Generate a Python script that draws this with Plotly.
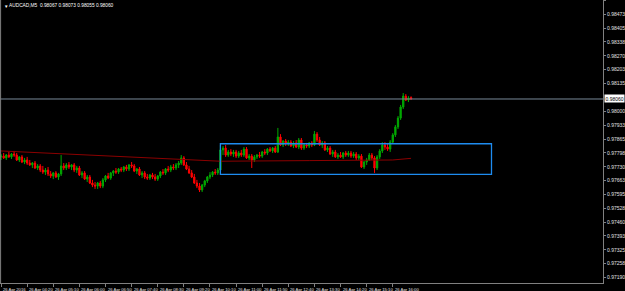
import plotly.graph_objects as go

# ---- data (prices in points, 1 point = 0.00001) ----
opens = [97778,97782,97773,97787,97778,97792,97787,97763,97778,97753,97763,97748,97739,97748,97724,97734,97714,97704,97714,97695,
         97685,97700,97680,97695,97734,97724,97739,97729,97739,97714,97724,97690,97700,97670,97680,97651,97641,97636,97651,97636,
         97666,97685,97675,97700,97709,97704,97719,97714,97729,97719,97739,97734,97709,97719,97690,97700,97680,97675,97690,97680,
         97670,97685,97704,97700,97719,97714,97729,97724,97739,97748,97773,97739,97719,97700,97680,97651,97636,97617,97641,97661,
         97680,97690,97704,97700,97714,97812,97821,97787,97802,97792,97802,97782,97797,97787,97816,97773,97782,97763,97778,97787,
         97782,97802,97797,97816,97807,97821,97802,97875,97836,97855,97841,97850,97831,97846,97826,97860,97821,97836,97831,97846,
         97836,97889,97860,97836,97846,97812,97821,97792,97802,97778,97787,97778,97797,97787,97797,97782,97792,97773,97782,97729,
         97753,97763,97787,97773,97724,97778,97807,97836,97826,97816,97850,97885,97924,97967,98021,98074,98055,98067]
highs = [97792,97797,97792,97802,97797,97807,97797,97782,97787,97773,97778,97763,97753,97758,97743,97743,97734,97724,97729,97709,
         97704,97709,97700,97787,97748,97748,97753,97743,97748,97734,97734,97709,97709,97690,97690,97666,97656,97656,97661,97675,
         97690,97700,97704,97714,97724,97724,97729,97734,97739,97743,97753,97743,97724,97729,97709,97709,97695,97695,97700,97695,
         97690,97709,97719,97724,97734,97739,97743,97748,97758,97787,97782,97753,97734,97714,97695,97666,97651,97646,97666,97685,
         97704,97709,97719,97724,97836,97831,97836,97812,97816,97812,97812,97807,97812,97826,97826,97792,97792,97787,97792,97802,
         97807,97816,97821,97826,97826,97831,97919,97889,97860,97865,97860,97860,97855,97860,97870,97870,97841,97846,97850,97855,
         97904,97899,97875,97855,97855,97831,97831,97812,97812,97797,97802,97802,97807,97807,97807,97802,97802,97792,97792,97758,
         97773,97797,97797,97782,97787,97816,97850,97850,97846,97860,97894,97933,97977,98031,98089,98084,98074,98073]
lows = [97763,97768,97763,97773,97768,97778,97758,97753,97748,97743,97739,97734,97724,97719,97714,97704,97695,97690,97685,97675,
        97670,97675,97666,97685,97714,97714,97719,97714,97704,97700,97685,97675,97666,97656,97646,97631,97622,97622,97626,97626,
        97656,97670,97666,97685,97695,97695,97704,97704,97709,97709,97724,97704,97695,97685,97675,97670,97666,97666,97670,97661,
        97661,97675,97690,97690,97704,97704,97714,97714,97724,97739,97734,97714,97695,97675,97646,97626,97607,97607,97631,97651,
        97670,97680,97690,97690,97695,97787,97778,97778,97782,97778,97773,97773,97778,97778,97768,97763,97724,97753,97768,97773,
        97773,97787,97787,97802,97797,97797,97797,97831,97826,97831,97831,97826,97821,97821,97816,97812,97812,97821,97821,97826,
        97831,97850,97831,97821,97807,97802,97787,97778,97773,97768,97773,97768,97778,97778,97773,97773,97763,97763,97724,97719,
        97739,97758,97763,97700,97714,97768,97797,97812,97807,97802,97841,97875,97914,97958,98011,98050,98045,98055]
closes = [97782,97773,97787,97778,97792,97787,97763,97778,97753,97763,97748,97739,97748,97724,97734,97714,97704,97714,97695,97685,
          97700,97680,97695,97734,97724,97739,97729,97739,97714,97724,97690,97700,97670,97680,97651,97641,97636,97651,97636,97666,
          97685,97675,97700,97709,97704,97719,97714,97729,97719,97739,97734,97709,97719,97690,97700,97680,97675,97690,97680,97670,
          97685,97704,97700,97719,97714,97729,97724,97739,97748,97773,97739,97719,97700,97680,97651,97636,97617,97641,97661,97680,
          97690,97704,97700,97714,97812,97821,97787,97802,97792,97802,97782,97797,97787,97816,97773,97782,97763,97778,97787,97782,
          97802,97797,97816,97807,97821,97802,97875,97836,97855,97841,97850,97831,97846,97826,97860,97821,97836,97831,97846,97836,
          97889,97860,97836,97846,97812,97821,97792,97802,97778,97787,97778,97797,97787,97797,97782,97792,97773,97782,97729,97753,
          97763,97787,97773,97724,97778,97807,97836,97826,97816,97850,97885,97924,97967,98021,98074,98055,98065,98060]

ma_bars = [0, 40, 84, 118, 150, 157]
ma_vals = [97807, 97783, 97757, 97760, 97763, 97771]

box_bars = [84, 187.8]
box_prices = [97693, 97842]

bid_price = 98060
x_tick_bars = [0, 10, 20, 30, 40, 50, 60, 70, 80, 90, 100, 110, 120, 130, 140, 150]
x_tick_labels = ["26 Apr 2016", "26 Apr 04:20", "26 Apr 05:10", "26 Apr 06:00", "26 Apr 06:50", "26 Apr 07:40",
                 "26 Apr 08:30", "26 Apr 09:20", "26 Apr 10:10", "26 Apr 11:00", "26 Apr 11:50", "26 Apr 12:40",
                 "26 Apr 13:30", "26 Apr 14:20", "26 Apr 15:10", "26 Apr 16:00"]
y_ticks = [98540, 98473, 98405, 98338, 98270, 98203, 98135, 98000, 97933, 97865, 97798, 97730, 97663,
           97595, 97528, 97460, 97393, 97325, 97258, 97190]
title_text = "AUDCAD,M5  0.98067 0.98073 0.98055 0.98060"

P = 1e-5
n = len(closes)
bars = list(range(n))

fig = go.Figure()
fig.add_trace(go.Candlestick(
    x=bars, open=[v * P for v in opens], high=[v * P for v in highs],
    low=[v * P for v in lows], close=[v * P for v in closes],
    increasing=dict(line=dict(color="#00A800", width=1), fillcolor="#00A800"),
    decreasing=dict(line=dict(color="#FF0000", width=1), fillcolor="#FF0000"),
    whiskerwidth=0, showlegend=False, hoverinfo="skip"))
fig.add_trace(go.Scatter(x=ma_bars, y=[v * P for v in ma_vals], mode="lines",
                         line=dict(color="#8B0000", width=1), showlegend=False, hoverinfo="skip"))

# bid line
fig.add_shape(type="line", xref="paper", x0=0, x1=1, yref="y", y0=bid_price * P, y1=bid_price * P,
              line=dict(color="#778899", width=1))
# rectangle
fig.add_shape(type="rect", xref="x", x0=box_bars[0], x1=box_bars[1], yref="y",
              y0=box_prices[0] * P, y1=box_prices[1] * P, line=dict(color="#1E8CF0", width=1.3))
# left border
fig.add_shape(type="line", xref="paper", x0=0.001, x1=0.001, yref="paper", y0=0, y1=1,
              line=dict(color="#808080", width=1))

ann = []
for b, t in zip(x_tick_bars, x_tick_labels):
    ann.append(dict(x=b, xref="x", y=-0.006, yref="paper", text=t, showarrow=False, xanchor="left",
                    yanchor="top", font=dict(size=4.2, color="#E0E0E0", family="Liberation Sans")))
ann.append(dict(x=1.0, xref="paper", xanchor="left", y=bid_price * P, yref="y", text="0.98060",
                showarrow=False, bgcolor="#FFFFFF", borderpad=0.5, xshift=1,
                font=dict(size=5, color="#000000", family="Liberation Sans")))
ann.append(dict(x=0.003, xref="paper", xanchor="left", y=0.995, yref="paper", yanchor="top", text="▼",
                showarrow=False, font=dict(size=4.5, color="#FFFFFF")))
ann.append(dict(x=0.011, xref="paper", xanchor="left", y=0.995, yref="paper", yanchor="top", text=title_text,
                showarrow=False, font=dict(size=4.8, color="#FFFFFF", family="Liberation Sans")))

fig.update_layout(
    width=625, height=291, margin=dict(l=0, r=20, t=0, b=8),
    paper_bgcolor="#000000", plot_bgcolor="#000000",
    xaxis=dict(range=[-0.4, 230.5], showgrid=False, zeroline=False, showline=True, linecolor="#808080",
               tickvals=x_tick_bars, ticks="outside", ticklen=3, tickcolor="#808080", showticklabels=False,
               rangeslider=dict(visible=False), fixedrange=True),
    yaxis=dict(range=[0.97164, 0.98542], side="right", showgrid=False, zeroline=False, showline=True,
               linecolor="#808080", tickvals=[v * P for v in y_ticks], ticktext=["%.5f" % (v * P) for v in y_ticks],
               ticks="outside", ticklen=2, tickcolor="#808080",
               tickfont=dict(size=5, color="#E0E0E0", family="Liberation Sans"), fixedrange=True),
    annotations=ann,
)
fig.write_html("out.html")
